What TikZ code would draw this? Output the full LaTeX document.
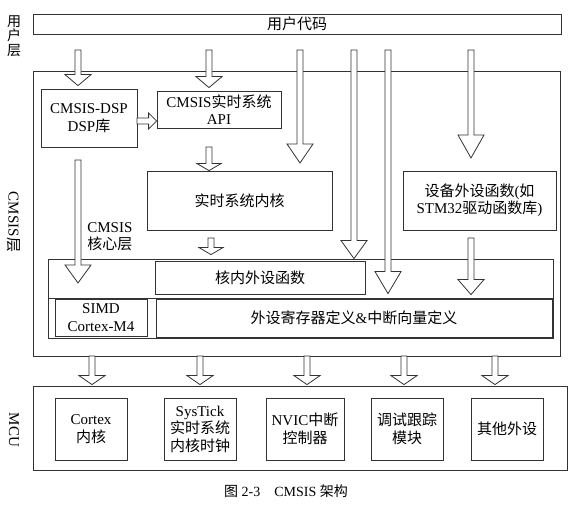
\documentclass[tikz,border=0pt]{standalone}
\usepackage{fontspec}
\setmainfont{Liberation Serif}
\newfontfamily\cjk{Noto Sans CJK SC}
\newcommand\zh[1]{{\cjk #1}}
\usetikzlibrary{calc}
\begin{document}
\begin{tikzpicture}[x=1pt,y=-1pt,
  line width=0.8pt,
  box/.style={draw=black!80, align=center, inner sep=0pt, font=\fontsize{15}{17.5}\selectfont},
  lbl/.style={align=center, inner sep=0pt, font=\fontsize{15}{17}\selectfont},
  blk/.style={draw=black!80, fill=white},
  darrow/.style n args={2}{to path={let \p1=(\tikztostart),\p2=(\tikztotarget) in
     (\x1-3pt,\y1) -- (\x1-3pt,\y2+#1) -- (\x1-#2,\y2+#1) -- (\x1,\y2) -- (\x1+#2,\y2+#1) -- (\x1+3pt,\y2+#1) -- (\x1+3pt,\y1) -- cycle}},
  rarrow/.style n args={2}{to path={let \p1=(\tikztostart),\p2=(\tikztotarget) in
     (\x1,\y1-3pt) -- (\x2-#1,\y1-3pt) -- (\x2-#1,\y1-#2) -- (\x2,\y1) -- (\x2-#1,\y1+#2) -- (\x2-#1,\y1+3pt) -- (\x1,\y1+3pt) -- cycle}}
]
\useasboundingbox (0,0) rectangle (574,510);

% side labels
\node[lbl, font=\fontsize{14}{14.5}\selectfont] (luser) at (14,36) {\zh{用}\\\zh{户}\\\zh{层}};
\node[lbl, rotate=-90] (lcmsis) at (14,222) {CMSIS\zh{层}};
\node[lbl, rotate=-90] (lmcu) at (14,430) {MCU};

% user layer
\node[box, minimum width=528, minimum height=20] (user) at (297,24) {\zh{用户代码}};

% CMSIS layer
\node[box, minimum width=527, minimum height=285] (cmsis) at (296.5,213.5) {};
\node[box, minimum width=96, minimum height=58] (dsp) at (89,118) {CMSIS-DSP\\DSP\zh{库}};
\node[box, minimum width=124, minimum height=37] (api) at (219,109.5) {CMSIS\zh{实时系统}\\API};
\node[box, minimum width=185, minimum height=59] (rtk) at (239.5,200.5) {\zh{实时系统内核}};
\node[box, minimum width=153, minimum height=59] (dev) at (479.5,200.5) {\zh{设备外设函数}(\zh{如}\\STM32\zh{驱动函数库})};
\node[lbl, anchor=west, align=left] (corelbl) at (87,237) {CMSIS\\\zh{核心层}};
\node[box, minimum width=505, minimum height=79] (inner) at (300.5,298.5) {};
\node[box, minimum width=210, minimum height=33] (kn) at (260,277.5) {\zh{核内外设函数}};
\node[box, minimum width=92, minimum height=37] (simd) at (101,317.5) {SIMD\\Cortex-M4};
\node[box, minimum width=396, minimum height=38] (reg) at (354,318) {\zh{外设寄存器定义}\&\zh{中断向量定义}};
\draw[draw=black!80] (inner.west |- simd.north) -- (inner.east |- simd.north);

% MCU layer
\node[box, minimum width=534, minimum height=84] (mcu) at (300,428) {};
\node[box, minimum width=72, minimum height=62] (cortex) at (91,429) {Cortex\\\zh{内核}};
\node[box, minimum width=72, minimum height=62] (systick) at (200,429) {SysTick\\\zh{实时系统}\\\zh{内核时钟}};
\node[box, minimum width=78, minimum height=62] (nvic) at (305,429) {NVIC\zh{中断}\\\zh{控制器}};
\node[box, minimum width=72, minimum height=62] (debug) at (407,429) {\zh{调试跟踪}\\\zh{模块}};
\node[box, minimum width=72, minimum height=62] (other) at (507,429) {\zh{其他外设}};

% caption
\node[lbl, font=\fontsize{14}{16}\selectfont] (cap) at (286,491) {\zh{图} 2-3\quad CMSIS \zh{架构}};

% arrow start / free end points
\coordinate (s1) at (78,50);
\coordinate (s2) at (209,50);
\coordinate (s3) at (300,50);
\coordinate (s4) at (354,50);
\coordinate (s5) at (388,50);
\coordinate (s6) at (471,50);
\coordinate (s7) at (471,238);
\coordinate (s8) at (209,147);
\coordinate (s9) at (211,238);
\coordinate (s10) at (78,160);
\coordinate (h1) at (137,121);
\coordinate (t3) at (300,163);
\coordinate (t6) at (471,158);
\coordinate (t10) at (78,283);
\coordinate (m1) at (92,356);
\coordinate (m2) at (200,356);
\coordinate (m3) at (307,356);
\coordinate (m4) at (404,356);
\coordinate (m5) at (495,356);

% arrows
\draw[blk] (s1) to[darrow={11pt}{13pt}] ([yshift=3pt]dsp.north);
\draw[blk] (s2) to[darrow={11pt}{13pt}] ([yshift=3pt]api.north);
\draw[blk] (s3) to[darrow={19pt}{13pt}] (t3);
\draw[blk] (s4) to[darrow={18pt}{13pt}] ([yshift=2pt]kn.north);
\draw[blk] (s5) to[darrow={22pt}{13pt}] ([yshift=5pt]reg.north);
\draw[blk] (s6) to[darrow={23pt}{13pt}] (t6);
\draw[blk] (s7) to[darrow={15pt}{13pt}] ([yshift=4pt]reg.north);
\draw[blk] (s8) to[darrow={7pt}{12pt}] (rtk.north);
\draw[blk] (s9) to[darrow={7pt}{12pt}] ([yshift=6pt]kn.north);
\draw[blk] (s10) to[darrow={18pt}{13pt}] (t10);
\draw[blk] (h1) to[rarrow={8pt}{8pt}] (api.west |- h1);
\foreach \m in {m1,m2,m3,m4,m5}
  \draw[blk] (\m) to[darrow={9pt}{13pt}] ([yshift=1pt]mcu.north -| \m);
\end{tikzpicture}
\end{document}
